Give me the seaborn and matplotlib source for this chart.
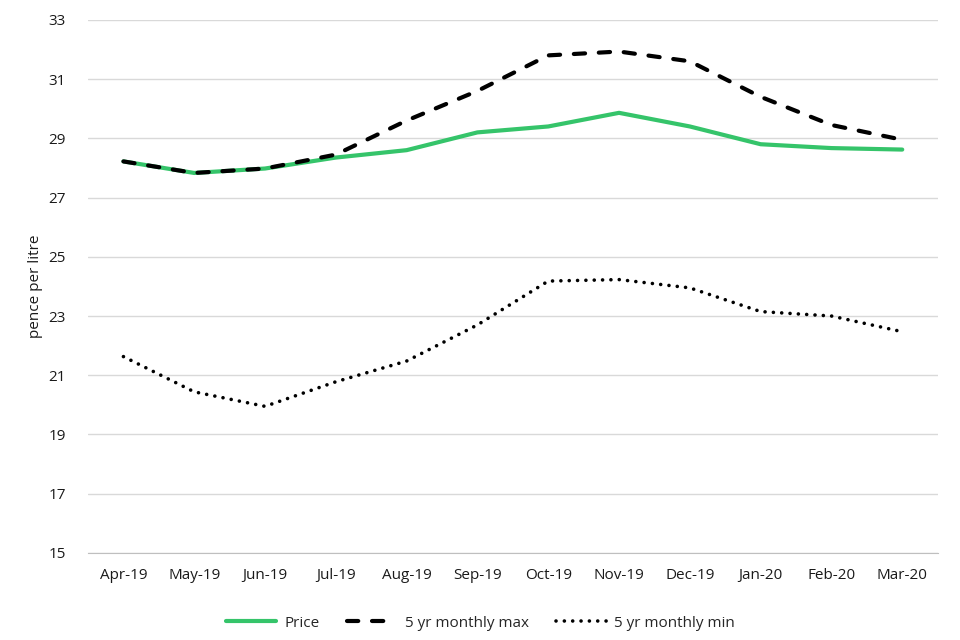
import matplotlib
matplotlib.use("Agg")
import matplotlib.pyplot as plt
import seaborn as sns
import pandas as pd

months = ["Apr-19", "May-19", "Jun-19", "Jul-19", "Aug-19", "Sep-19",
          "Oct-19", "Nov-19", "Dec-19", "Jan-20", "Feb-20", "Mar-20"]
price = [28.22, 27.83, 27.98, 28.35, 28.6, 29.2, 29.4, 29.86, 29.4, 28.8, 28.67, 28.62]
max_5yr = [28.22, 27.83, 27.98, 28.45, 29.6, 30.6, 31.8, 31.93, 31.6, 30.4, 29.45, 28.95]
min_5yr = [21.63, 20.44, 19.95, 20.78, 21.48, 22.7, 24.18, 24.23, 23.95, 23.15, 23.0, 22.47]

df = pd.DataFrame({"month": months, "Price": price,
                   "5 yr monthly max": max_5yr, "5 yr monthly min": min_5yr})

sns.set_style("white")
plt.rcParams["font.family"] = ["Open Sans", "DejaVu Sans"]

fig = plt.figure(figsize=(9.6, 6.4), dpi=100)
ax = fig.add_axes([0.0917, 0.136, 0.885, 0.833])

sns.lineplot(data=df, x="month", y="Price", ax=ax, color="#35c46a",
             linewidth=3.0, label="Price", sort=False)
sns.lineplot(data=df, x="month", y="5 yr monthly max", ax=ax, color="black",
             linewidth=3.0, label="5 yr monthly max", sort=False,
             dashes=(2.7, 3.3))
sns.lineplot(data=df, x="month", y="5 yr monthly min", ax=ax, color="black",
             linewidth=2.6, label="5 yr monthly min", sort=False,
             dashes=(0.01, 2.3))
ax.lines[0].set_zorder(2)
ax.lines[1].set_zorder(3)
ax.lines[1].set_dash_capstyle("round")
ax.lines[2].set_dash_capstyle("round")

ax.set_ylim(15, 33)
ax.set_yticks(range(15, 34, 2))
ax.set_xlim(-0.5, 11.5)
ax.set_xticks(range(12))
ax.set_xticklabels(months)
ax.set_xticks([i - 0.5 for i in range(13)], minor=True)
ax.tick_params(axis="x", which="major", length=0, pad=11, labelsize=11, colors="#1a1a1a")
ax.tick_params(axis="x", which="minor", length=6, color="#bfbfbf", width=1)
ax.tick_params(axis="y", length=0, pad=16, labelsize=11, colors="#1a1a1a")
ax.grid(axis="y", color="#d9d9d9", linewidth=1)
ax.set_axisbelow(True)
for s in ["top", "right", "left"]:
    ax.spines[s].set_visible(False)
ax.spines["bottom"].set_color("#bfbfbf")
ax.set_xlabel("")
ax.set_ylabel("pence per litre", fontsize=11, color="#1a1a1a", labelpad=4)

leg = ax.legend(loc="upper center", bbox_to_anchor=(0.462, -0.092), ncol=3,
                frameon=False, fontsize=11, handlelength=3.3, handletextpad=0.5,
                columnspacing=1.8)
for h in leg.get_lines():
    h.set_dash_capstyle("round")

fig.savefig("out.png", dpi=100)
